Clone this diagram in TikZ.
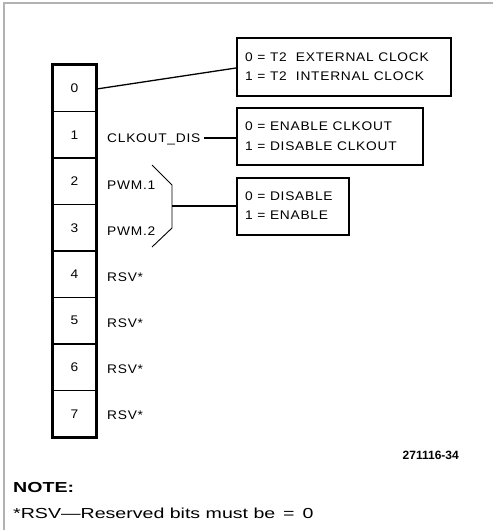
\documentclass[tikz,border=0pt]{standalone}
\usepackage{fontspec}
\setmainfont{Liberation Sans}
\newfontfamily\dfont[LetterSpace=6,FakeStretch=1.1]{Liberation Sans}
\newfontfamily\nfont[FakeStretch=1.35]{Liberation Sans}
\begin{document}
\begin{tikzpicture}[x=1pt,y=-1pt,
  cell/.style={draw, line width=1.3pt, minimum width=43pt, minimum height=46.5pt, inner sep=0pt, font=\dfont\fontsize{12.5}{14}\selectfont},
  lbl/.style={anchor=west, inner sep=0pt, font=\dfont\fontsize{12.5}{14}\selectfont},
  infobox/.style={draw, line width=2pt, anchor=north west, inner sep=0pt},
  wire/.style={line width=1.3pt}]
\useasboundingbox (0,0) rectangle (493,530);
\draw[gray!60, line width=1.4pt] (4,530) -- (4,3) -- (493,3);
\foreach \i in {0,...,7}{
  \node[cell] (c\i) at (74.5, 65+46.5*\i+23.25) {\i};
}
\draw[line width=2.6pt] (c0.north west) rectangle (c7.south east);
\node[lbl] (l1) at (107,139) {CLKOUT\_DIS};
\node[lbl] (l2) at (107,185) {PWM.1};
\node[lbl] (l3) at (107,231) {PWM.2};
\node[lbl] (l4) at (107,277) {RSV*};
\node[lbl] (l5) at (107,323) {RSV*};
\node[lbl] (l6) at (107,369) {RSV*};
\node[lbl] (l7) at (107,415) {RSV*};
\node[infobox, minimum width=214pt, minimum height=58pt] (b1) at (236,37) {};
\node[lbl] (t1a) at (245,57) {0 = T2\ \ EXTERNAL CLOCK};
\node[lbl] (t1b) at (245,76) {1 = T2\ \ INTERNAL CLOCK};
\node[infobox, minimum width=186pt, minimum height=57pt] (b2) at (236,107) {};
\node[lbl] (t2a) at (245,126) {0 = ENABLE CLKOUT};
\node[lbl] (t2b) at (245,146) {1 = DISABLE CLKOUT};
\node[infobox, minimum width=112pt, minimum height=57pt] (b3) at (236,177) {};
\node[lbl] (t3a) at (245,196) {0 = DISABLE};
\node[lbl] (t3b) at (245,215) {1 = ENABLE};
\draw[wire] (c0.east |- 0,89) -- (b1.west |- 0,68);
\coordinate (d1) at (204,138);
\draw[wire] (d1) -- (b2.west |- d1);
\coordinate (p1) at (152,165);
\coordinate (p2) at (172,185);
\coordinate (p3) at (172,228);
\coordinate (p4) at (152,247);
\coordinate (pm) at (172,206);
\draw[line width=0.9pt] (p1) -- (p2) -- (p3) -- (p4);
\draw[wire] (pm) -- (b3.west |- pm);
\node[anchor=east, inner sep=0pt, font=\bfseries\fontsize{12}{14}\selectfont] (fig) at (459,455) {271116-34};
\node[anchor=west, inner sep=0pt, font=\nfont\bfseries\fontsize{14.5}{16}\selectfont] (note) at (13,488) {NOTE:};
\node[anchor=west, inner sep=0pt, font=\nfont\fontsize{14.5}{16}\selectfont] (rsv) at (13,513) {*RSV—Reserved bits must be \,=\, 0};
\end{tikzpicture}
\end{document}
